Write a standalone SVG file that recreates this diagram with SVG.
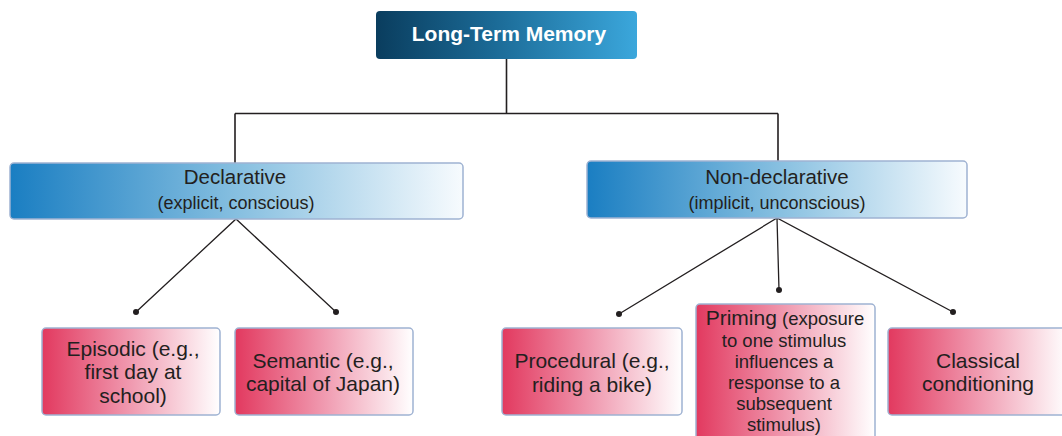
<svg xmlns="http://www.w3.org/2000/svg" width="1062" height="436" viewBox="0 0 1062 436">
<defs>
<linearGradient id="gTop" x1="0" y1="0" x2="1" y2="0">
<stop offset="0" stop-color="#0a3d5e"/>
<stop offset="0.45" stop-color="#1b6a96"/>
<stop offset="1" stop-color="#3ba7dc"/>
</linearGradient>
<linearGradient id="gBlue" x1="0" y1="0" x2="1" y2="0">
<stop offset="0" stop-color="#1a7ec2"/>
<stop offset="0.5" stop-color="#86bfe0"/>
<stop offset="1" stop-color="#f7fbfe"/>
</linearGradient>
<linearGradient id="gPink" x1="0" y1="0" x2="1" y2="0">
<stop offset="0" stop-color="#e2395f"/>
<stop offset="0.5" stop-color="#f09ab0"/>
<stop offset="1" stop-color="#ffffff"/>
</linearGradient>
</defs>
<style>
.t{font-family:"Liberation Sans",Arial,sans-serif;fill:#231f20;text-anchor:middle}
.b1{font-size:20.5px}
.b2{font-size:18px}
.p{font-size:21px}
.s{font-size:18.5px}
.box{stroke:#9fb2d2;stroke-width:1.5}
.ln{stroke:#231f20;fill:none}
.dot{fill:#231f20}
</style>
<g id="connectors">
<path class="ln" stroke-width="1.6" d="M506.5 59 V113.5 M235 113.5 H778 M235 113.5 V163 M778 113.5 V161"/>
<path class="ln" stroke-width="1.3" d="M136 312 L236 219 L336 312 M619 314 L777 218 L953 312 M777 218 L779 290"/>
<circle class="dot" cx="136" cy="312" r="3"/>
<circle class="dot" cx="336" cy="312" r="3"/>
<circle class="dot" cx="619" cy="314" r="3"/>
<circle class="dot" cx="779" cy="290" r="3"/>
<circle class="dot" cx="953" cy="312" r="3"/>
</g>
<g id="ltm">
<rect x="376" y="11" width="261" height="48" rx="4" fill="url(#gTop)"/>
<text x="509" y="41" font-family="Liberation Sans,Arial,sans-serif" font-weight="bold" font-size="21px" fill="#ffffff" text-anchor="middle">Long-Term Memory</text>
</g>
<g id="declarative">
<rect class="box" x="10" y="163" width="453" height="56" rx="4" fill="url(#gBlue)"/>
<text class="t b1" x="235" y="184">Declarative</text>
<text class="t b2" x="236" y="209">(explicit, conscious)</text>
</g>
<g id="nondeclarative">
<rect class="box" x="587" y="161" width="380" height="57" rx="4" fill="url(#gBlue)"/>
<text class="t b1" x="777" y="183.5">Non-declarative</text>
<text class="t b2" x="777" y="209">(implicit, unconscious)</text>
</g>
<g id="episodic">
<rect class="box" x="42" y="328" width="178" height="87" rx="4" fill="url(#gPink)"/>
<text class="t p" x="133" y="355.5">Episodic (e.g.,</text>
<text class="t p" x="133" y="379">first day at</text>
<text class="t p" x="133" y="402.5">school)</text>
</g>
<g id="semantic">
<rect class="box" x="235" y="328" width="178" height="87" rx="4" fill="url(#gPink)"/>
<text class="t p" x="323" y="367.5">Semantic (e.g.,</text>
<text class="t p" x="323" y="391">capital of Japan)</text>
</g>
<g id="procedural">
<rect class="box" x="502" y="328" width="180" height="87" rx="4" fill="url(#gPink)"/>
<text class="t p" x="592" y="368">Procedural (e.g.,</text>
<text class="t p" x="592" y="391.5">riding a bike)</text>
</g>
<g id="priming">
<rect class="box" x="696" y="304" width="179" height="150" rx="4" fill="url(#gPink)"/>
<text class="t s" x="785" y="325"><tspan font-size="21px">Priming</tspan> (exposure</text>
<text class="t s" x="784" y="346.5">to one stimulus</text>
<text class="t s" x="784" y="367.7">influences a</text>
<text class="t s" x="784" y="389">response to a</text>
<text class="t s" x="784" y="410">subsequent</text>
<text class="t s" x="784" y="431">stimulus)</text>
</g>
<g id="classical">
<rect class="box" x="888" y="328" width="180" height="87" rx="4" fill="url(#gPink)"/>
<text class="t p" x="978" y="368">Classical</text>
<text class="t p" x="978" y="391">conditioning</text>
</g>
</svg>
